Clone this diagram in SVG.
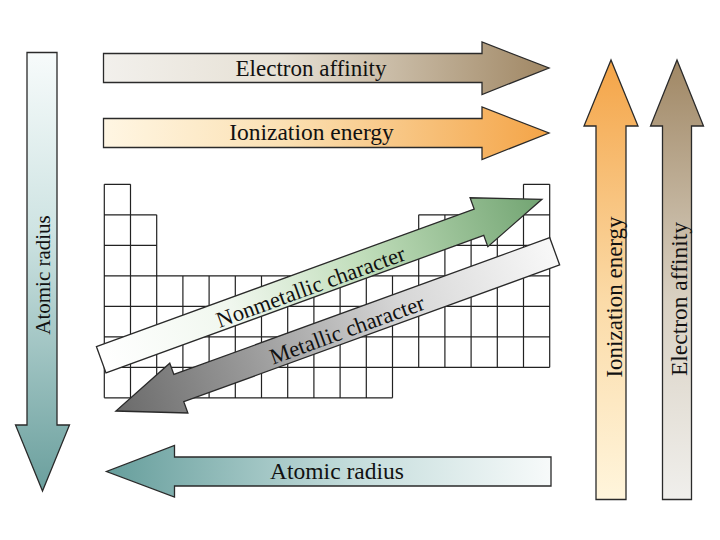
<svg xmlns="http://www.w3.org/2000/svg" width="720" height="540" viewBox="0 0 720 540">
<defs>
<linearGradient id="gEAh" x1="0" y1="0" x2="1" y2="0"><stop offset="0" stop-color="#f2f0ec"/><stop offset="0.4" stop-color="#e6e0d4"/><stop offset="1" stop-color="#a08764"/></linearGradient>
<linearGradient id="gIEh" x1="0" y1="0" x2="1" y2="0"><stop offset="0" stop-color="#fff6e3"/><stop offset="0.4" stop-color="#fbe1b4"/><stop offset="1" stop-color="#f4a447"/></linearGradient>
<linearGradient id="gARh" x1="0" y1="0" x2="1" y2="0"><stop offset="0" stop-color="#669e9c"/><stop offset="0.55" stop-color="#c3dcdb"/><stop offset="1" stop-color="#f7fafa"/></linearGradient>
<linearGradient id="gARv" x1="0" y1="0" x2="0" y2="1"><stop offset="0" stop-color="#f7fbfb"/><stop offset="0.4" stop-color="#cfe4e3"/><stop offset="1" stop-color="#6a9f9d"/></linearGradient>
<linearGradient id="gIEv" x1="0" y1="0" x2="0" y2="1"><stop offset="0" stop-color="#f4a447"/><stop offset="0.55" stop-color="#fbdba8"/><stop offset="1" stop-color="#fff5dc"/></linearGradient>
<linearGradient id="gEAv" x1="0" y1="0" x2="0" y2="1"><stop offset="0" stop-color="#a08764"/><stop offset="0.55" stop-color="#d9d1c3"/><stop offset="1" stop-color="#f0efec"/></linearGradient>
<linearGradient id="gNM" x1="0" y1="0" x2="1" y2="0"><stop offset="0" stop-color="#ffffff"/><stop offset="0.3" stop-color="#f0f7ee"/><stop offset="0.6" stop-color="#c0ddba"/><stop offset="1" stop-color="#72a472"/></linearGradient>
<linearGradient id="gM" x1="0" y1="0" x2="1" y2="0"><stop offset="0" stop-color="#f8f8f8"/><stop offset="0.35" stop-color="#d6d6d6"/><stop offset="0.7" stop-color="#999999"/><stop offset="1" stop-color="#6a6a6a"/></linearGradient>
</defs>
<style>
.arr{stroke:#2a2a2a;stroke-width:1.3;stroke-linejoin:miter}
.lbl{font-family:"Liberation Serif","Times New Roman",serif;font-size:23px;fill:#111;text-anchor:middle}
.grid{fill:none;stroke:#222;stroke-width:1.2}
</style>
<rect width="720" height="540" fill="#ffffff"/>
<g id="table">
<path class="grid" d="M104.3,184.3H130.5M523.5,184.3H549.7M104.3,214.8H156.7M418.7,214.8H549.7M104.3,245.3H156.7M418.7,245.3H549.7M104.3,275.8H549.7M104.3,306.3H549.7M104.3,336.8H549.7M104.3,367.3H549.7M104.3,397.8H392.5M104.3,184.3V397.8M130.5,184.3V397.8M156.7,214.8V397.8M182.9,275.8V397.8M209.1,275.8V397.8M235.3,275.8V397.8M261.5,275.8V397.8M287.7,275.8V397.8M313.9,275.8V397.8M340.1,275.8V397.8M366.3,275.8V397.8M392.5,275.8V397.8M418.7,214.8V367.3M444.9,214.8V367.3M471.1,214.8V367.3M497.3,214.8V367.3M523.5,184.3V367.3M549.7,184.3V367.3"/>
</g>
<g id="electron-affinity-h">
<polygon class="arr" fill="url(#gEAh)" points="103.5,53.5 482,53.5 482,42 549,68 482,94.5 482,82.5 103.5,82.5"/>
<text class="lbl" x="311" y="76">Electron affinity</text>
</g>
<g id="ionization-energy-h">
<polygon class="arr" fill="url(#gIEh)" points="103.5,118.5 482,118.5 482,107 549,133 482,159.5 482,147.5 103.5,147.5"/>
<text class="lbl" style="font-size:23.5px" x="311.5" y="139.5">Ionization energy</text>
</g>
<g id="atomic-radius-h">
<polygon class="arr" fill="url(#gARh)" points="551,457 174.5,457 174.5,445.5 106.5,471.5 174.5,497 174.5,486 551,486"/>
<text class="lbl" style="font-size:23.5px" x="337" y="479">Atomic radius</text>
</g>
<g id="atomic-radius-v">
<polygon class="arr" fill="url(#gARv)" points="27,52.5 57,52.5 57,425 69.5,425 42.5,491 15.5,425 27,425"/>
<text class="lbl" style="font-size:21px" transform="translate(50,275) rotate(-90)">Atomic radius</text>
</g>
<g id="ionization-energy-v">
<polygon class="arr" fill="url(#gIEv)" points="596,499.5 596,126 584,126 611,60 638,126 626,126 626,499.5"/>
<text class="lbl" transform="translate(622,297) rotate(-90)">Ionization energy</text>
</g>
<g id="electron-affinity-v">
<polygon class="arr" fill="url(#gEAv)" points="662.5,499.5 662.5,126 650.5,126 677,60 703.5,126 691.5,126 691.5,499.5"/>
<text class="lbl" style="font-size:23.5px" transform="translate(687,299) rotate(-90)">Electron affinity</text>
</g>
<g id="nonmetallic">
<polygon class="arr" fill="url(#gNM)" transform="translate(101.2,359.7) rotate(-20)" points="0,-14 402,-14 402,-26 469,0 402,26 402,14 0,14"/>
<text class="lbl" style="font-size:22.5px" transform="translate(311,287.7) rotate(-20)" y="6.5">Nonmetallic character</text>
</g>
<g id="metallic">
<polygon class="arr" fill="url(#gM)" transform="translate(554.7,251.3) rotate(160)" points="0,-14.5 400,-14.5 400,-26.5 467,0 400,26.5 400,14.5 0,14.5"/>
<text class="lbl" style="font-size:22.5px" transform="translate(347.3,330.7) rotate(-20)" y="6.5">Metallic character</text>
</g>
</svg>
